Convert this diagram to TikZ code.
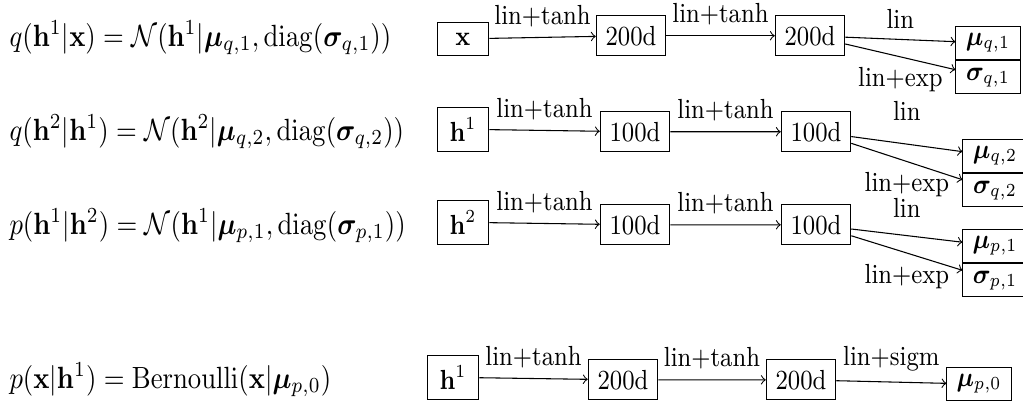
\documentclass[tikz,border=0pt]{standalone}
\usepackage{amsmath,amssymb,bm}
\begin{document}
\begin{tikzpicture}[x=0.3745pt,y=-0.3257pt,yscale=1.15,transform shape,
  box/.style={draw,font=\small,inner sep=3.33pt,anchor=base},
  inbox/.style={box,minimum width=19.3pt},
  hidbox/.style={box,minimum width=26pt},
  outbox/.style={draw,font=\small,inner xsep=3.33pt,inner ysep=2.3pt,minimum width=24pt,anchor=center},
  lbl/.style={font=\small,inner sep=0.5pt},
  ab/.style={lbl,above=2.83pt},
  be/.style={lbl,below=2.83pt},
  hilbl/.style={lbl,above=2.83pt,yshift=4pt},
  midlbl/.style={lbl,above=2.83pt,yshift=2.5pt},
  form/.style={anchor=base west,inner sep=0pt},
  arr/.style={->}]
\useasboundingbox (0,0) rectangle (1023,402);

% Row 1
\node[form] (f1) at (9,46) {$q(\mathbf{h}^1|\mathbf{x}) = \mathcal{N}(\mathbf{h}^1|\boldsymbol{\mu}_{q,1}, \mathrm{diag}(\boldsymbol{\sigma}_{q,1}))$};
\node[inbox] (a0) at (463,45) {$\mathbf{x}$};
\node[hidbox] (a1) at (631,45) {200d};
\node[hidbox] (a2) at (810,45) {200d};
\node[outbox] (amu) at (988,43) {$\boldsymbol{\mu}_{q,1}$};
\node[outbox,anchor=north] (asig) at (amu.south) {$\boldsymbol{\sigma}_{q,1}$};
\draw[arr] (a0) -- node[ab]{lin+tanh} (a1);
\draw[arr] (a1) -- node[ab]{lin+tanh} (a2);
\draw[arr] (a2) -- node[ab]{lin} (amu);
\draw[arr] (a2) -- node[be]{lin+exp} (asig);

% Row 2
\node[form] (f2) at (9,140) {$q(\mathbf{h}^2|\mathbf{h}^1) = \mathcal{N}(\mathbf{h}^2|\boldsymbol{\mu}_{q,2}, \mathrm{diag}(\boldsymbol{\sigma}_{q,2}))$};
\node[inbox] (b0) at (463,141) {$\mathbf{h}^1$};
\node[hidbox] (b1) at (635,141) {100d};
\node[hidbox] (b2) at (816,141) {100d};
\node[outbox] (bmu) at (995,156) {$\boldsymbol{\mu}_{q,2}$};
\node[outbox,anchor=north] (bsig) at (bmu.south) {$\boldsymbol{\sigma}_{q,2}$};
\draw[arr] (b0) -- node[ab]{lin+tanh} (b1);
\draw[arr] (b1) -- node[ab]{lin+tanh} (b2);
\draw[arr] (b2) -- node[hilbl]{lin} (bmu);
\draw[arr] (b2) -- node[be]{lin+exp} (bsig);

% Row 3
\node[form] (f3) at (9,234) {$p(\mathbf{h}^1|\mathbf{h}^2) = \mathcal{N}(\mathbf{h}^1|\boldsymbol{\mu}_{p,1}, \mathrm{diag}(\boldsymbol{\sigma}_{p,1}))$};
\node[inbox] (c0) at (463,234) {$\mathbf{h}^2$};
\node[hidbox] (c1) at (635,234) {100d};
\node[hidbox] (c2) at (816,234) {100d};
\node[outbox] (cmu) at (995,246) {$\boldsymbol{\mu}_{p,1}$};
\node[outbox,anchor=north] (csig) at (cmu.south) {$\boldsymbol{\sigma}_{p,1}$};
\draw[arr] (c0) -- node[ab]{lin+tanh} (c1);
\draw[arr] (c1) -- node[ab]{lin+tanh} (c2);
\draw[arr] (c2) -- node[midlbl]{lin} (cmu);
\draw[arr] (c2) -- node[be]{lin+exp} (csig);

% Row 4
\node[form] (f4) at (9,388) {$p(\mathbf{x}|\mathbf{h}^1) = \mathrm{Bernoulli}(\mathbf{x}|\boldsymbol{\mu}_{p,0})$};
\node[inbox] (d0) at (453,389) {$\mathbf{h}^1$};
\node[hidbox] (d1) at (623,389) {200d};
\node[hidbox] (d2) at (801,389) {200d};
\node[outbox] (dmu) at (979,384) {$\boldsymbol{\mu}_{p,0}$};
\draw[arr] (d0) -- node[ab]{lin+tanh} (d1);
\draw[arr] (d1) -- node[ab]{lin+tanh} (d2);
\draw[arr] (d2) -- node[ab]{lin+sigm} (dmu);
\end{tikzpicture}
\end{document}
